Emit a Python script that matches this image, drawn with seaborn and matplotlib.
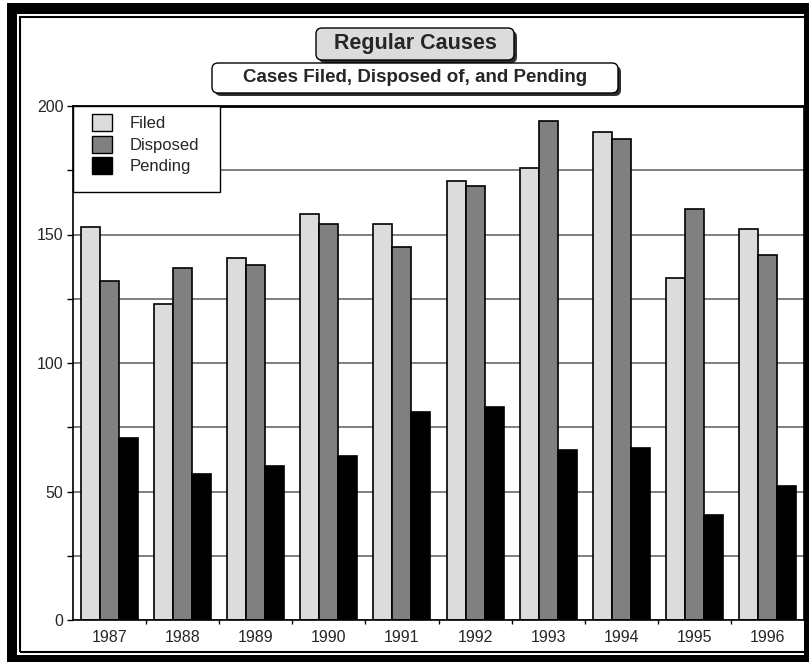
import matplotlib
matplotlib.use("Agg")
import matplotlib.pyplot as plt
import seaborn as sns
import pandas as pd
from matplotlib.patches import Rectangle, FancyBboxPatch, Patch
from matplotlib.ticker import MultipleLocator

years = ["1987", "1988", "1989", "1990", "1991", "1992", "1993", "1994", "1995", "1996"]
filed = [153, 123, 141, 158, 154, 171, 176, 190, 133, 152]
disposed = [132, 137, 138, 154, 145, 169, 194, 187, 160, 142]
pending = [71, 57, 60, 64, 81, 83, 66, 67, 41, 52]
series = ["Filed", "Disposed", "Pending"]
colors = ["#dcdcdc", "#808080", "#000000"]

df = pd.DataFrame({
    "year": years * 3,
    "series": [s for s in series for _ in years],
    "count": filed + disposed + pending,
})

sns.set_style("white")
plt.rcParams["font.family"] = ["Liberation Sans", "DejaVu Sans"]

W, H = 809, 662
fig = plt.figure(figsize=(W / 100, H / 100), dpi=100)


def px_box(x0, y0, x1, y1):
    # pixel coords (top-down) -> inches from bottom-left
    return (x0 / 100, (H - y1) / 100), (x1 - x0) / 100, (y1 - y0) / 100


# frame around the whole picture
xy, w, h = px_box(7, 3, 840, 690)
fig.patches.append(Rectangle(xy, w, h, transform=fig.dpi_scale_trans,
                             facecolor="black", edgecolor="none", zorder=-3))
xy, w, h = px_box(17, 14, 804, 655)
fig.patches.append(Rectangle(xy, w, h, transform=fig.dpi_scale_trans,
                             facecolor="white", edgecolor="none", zorder=-2))
xy, w, h = px_box(19.5, 16.5, 840, 651.5)
fig.patches.append(Rectangle(xy, w, h, transform=fig.dpi_scale_trans,
                             facecolor="none", edgecolor="black", lw=1.5, zorder=-1))

# title boxes with shadow
for (x0, y0, x1, y1), fc in [((316, 28, 514, 60), "#dcdcdc"), ((212, 63, 618, 93), "white")]:
    xy, w, h = px_box(x0 + 3, y0 + 3, x1 + 3, y1 + 3)
    fig.patches.append(FancyBboxPatch(xy, w, h, boxstyle="round,pad=0,rounding_size=0.06",
                                      transform=fig.dpi_scale_trans,
                                      facecolor="#303030", edgecolor="none", zorder=1))
    xy, w, h = px_box(x0, y0, x1, y1)
    fig.patches.append(FancyBboxPatch(xy, w, h, boxstyle="round,pad=0,rounding_size=0.06",
                                      transform=fig.dpi_scale_trans,
                                      facecolor=fc, edgecolor="black", lw=1, zorder=2))

fig.text(415 / W, 1 - 44 / H, "Regular Causes", ha="center", va="center",
         fontsize=15.5, fontweight="bold", zorder=3)
fig.text(415 / W, 1 - 78 / H, "Cases Filed, Disposed of, and Pending", ha="center",
         va="center", fontsize=13.5, fontweight="bold", zorder=3)

ax = fig.add_axes([73 / W, 1 - 620 / H, 731 / W, 514 / H])
sns.barplot(data=df, x="year", y="count", hue="series", hue_order=series,
            palette=colors, saturation=1, edgecolor="black", linewidth=1.2,
            width=0.78, legend=False, ax=ax)

ax.set_xlim(-0.5, 9.5)
ax.set_ylim(0, 200)
ax.set_xlabel("")
ax.set_ylabel("")
ax.yaxis.set_major_locator(MultipleLocator(50))
ax.yaxis.set_minor_locator(MultipleLocator(25))
ax.grid(which="both", axis="y", color="#6a6a6a", lw=1.2)
ax.set_axisbelow(True)
ax.tick_params(axis="y", which="both", left=True, direction="out", length=4,
               width=1, color="black", labelsize=11.5, pad=3)
ax.tick_params(axis="x", which="major", length=0, labelsize=11.5, pad=7)
ax.set_xticks([i + 0.5 for i in range(9)], minor=True)
ax.tick_params(axis="x", which="minor", bottom=True, direction="out", length=3,
               width=1, color="black")
for side, lw in [("top", 2), ("left", 1.2), ("bottom", 1.2), ("right", 1.2)]:
    ax.spines[side].set_visible(True)
    ax.spines[side].set_color("black")
    ax.spines[side].set_linewidth(lw)

# legend box
ax.add_patch(Rectangle((0, (620 - 192) / 514), (220 - 73) / 731, (192 - 106) / 514,
                       transform=ax.transAxes, facecolor="white", edgecolor="black",
                       lw=1, zorder=4, clip_on=False))
handles = [Patch(facecolor=c, edgecolor="black", lw=1) for c in colors]
leg = ax.legend(handles, series, loc="upper left", bbox_to_anchor=(19 / 731, 1 - 8 / 514),
                borderaxespad=0, borderpad=0, frameon=False, fontsize=12,
                handlelength=1.2, handleheight=1.2, labelspacing=0.27, handletextpad=1.05)
leg.set_zorder(5)

fig.savefig("out.png", dpi=100)
